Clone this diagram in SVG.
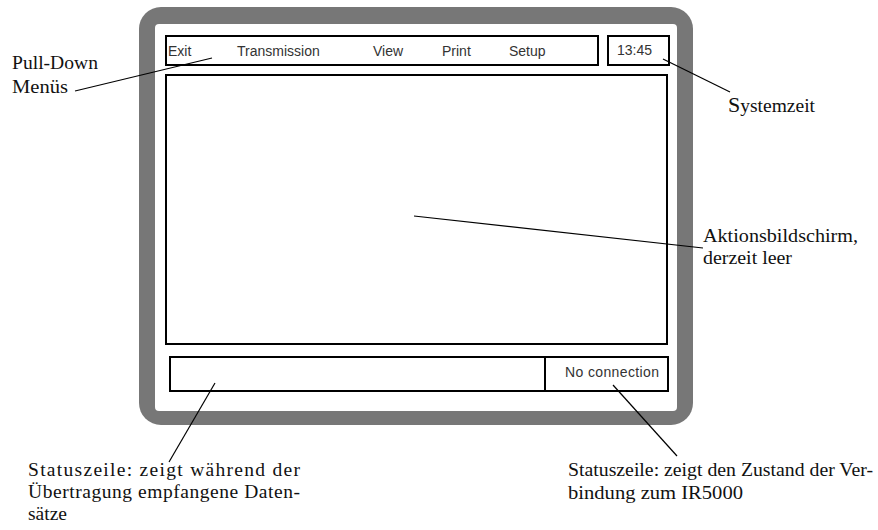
<svg xmlns="http://www.w3.org/2000/svg" width="878" height="530" viewBox="0 0 878 530">
  <style>
    .box { fill: none; stroke: #000; stroke-width: 2; }
    .ui { font-family: "Liberation Sans", Arial, sans-serif; font-size: 14px; fill: #333; }
    .lbl { font-family: "Liberation Serif", "Times New Roman", serif; font-size: 19.5px; fill: #111; }
    .lead { stroke: #000; stroke-width: 1.2; fill: none; }
  </style>
  <rect width="878" height="530" fill="#fff"/>

  <!-- monitor bezel -->
  <g id="bezel">
    <rect x="139" y="7" width="554" height="418" rx="22" ry="22" fill="#777"/>
    <rect x="155" y="24" width="522" height="387" rx="4" ry="4" fill="#fff"/>
  </g>

  <!-- menu bar -->
  <g id="menubar">
    <rect class="box" x="166" y="36" width="432" height="29"/>
    <text class="ui" x="168" y="56">Exit</text>
    <text class="ui" x="237" y="56">Transmission</text>
    <text class="ui" x="373" y="56">View</text>
    <text class="ui" x="442" y="56">Print</text>
    <text class="ui" x="509" y="56">Setup</text>
  </g>

  <!-- clock -->
  <g id="clock">
    <rect class="box" x="608" y="36" width="61" height="29"/>
    <text class="ui" x="617" y="55">13:45</text>
  </g>

  <!-- action screen -->
  <g id="action-screen">
    <rect class="box" x="166" y="75" width="501" height="269"/>
  </g>

  <!-- status bar -->
  <g id="statusbar">
    <rect class="box" x="170" y="357" width="498" height="34"/>
    <line class="box" x1="545" y1="357" x2="545" y2="391"/>
    <text class="ui" x="565" y="377" textLength="94" lengthAdjust="spacing">No connection</text>
  </g>

  <!-- leader lines -->
  <g id="connectors">
    <line class="lead" x1="75" y1="91" x2="212" y2="58"/>
    <line class="lead" x1="663" y1="59" x2="730" y2="92"/>
    <line class="lead" x1="414" y1="216" x2="703" y2="248"/>
    <line class="lead" x1="215" y1="383" x2="169" y2="462"/>
    <line class="lead" x1="613" y1="385" x2="677" y2="456"/>
  </g>

  <!-- annotations -->
  <g id="label-menus">
    <text class="lbl" x="12" y="69" textLength="86" lengthAdjust="spacingAndGlyphs">Pull-Down</text>
    <text class="lbl" x="12" y="93" textLength="56" lengthAdjust="spacingAndGlyphs">Menüs</text>
  </g>
  <g id="label-clock">
    <text class="lbl" x="728" y="112" textLength="87" lengthAdjust="spacingAndGlyphs"><tspan font-size="22px">S</tspan>ystemzeit</text>
  </g>
  <g id="label-action">
    <text class="lbl" x="703" y="242" textLength="155" lengthAdjust="spacingAndGlyphs">Aktionsbildschirm,</text>
    <text class="lbl" x="703" y="264" textLength="89" lengthAdjust="spacingAndGlyphs">derzeit leer</text>
  </g>
  <g id="label-status-left">
    <text class="lbl" x="28" y="476" textLength="272" lengthAdjust="spacing">Statuszeile: zeigt während der</text>
    <text class="lbl" x="28" y="498" textLength="272" lengthAdjust="spacing">Übertragung empfangene Daten-</text>
    <text class="lbl" x="28" y="520" textLength="39" lengthAdjust="spacingAndGlyphs">sätze</text>
  </g>
  <g id="label-status-right">
    <text class="lbl" x="568" y="476" textLength="305" lengthAdjust="spacingAndGlyphs">Statuszeile: zeigt den Zustand der Ver-</text>
    <text class="lbl" x="568" y="499" textLength="175" lengthAdjust="spacingAndGlyphs">bindung zum IR5000</text>
  </g>
</svg>
